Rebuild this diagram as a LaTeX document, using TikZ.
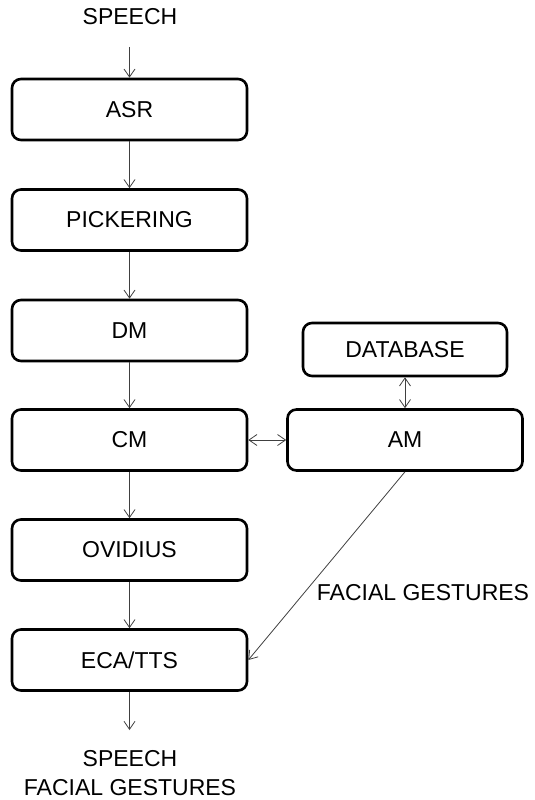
\documentclass[tikz,border=0pt]{standalone}
\usepackage{fontspec}
\setmainfont{Liberation Sans}
\usetikzlibrary{arrows.meta}
\begin{document}
\begin{tikzpicture}[x=1pt,y=-1pt,
  box/.style={draw=black, line width=2.6pt, rounded corners=9pt, fill=white,
              minimum width=235pt, minimum height=61pt, inner sep=0pt,
              font=\fontsize{23}{27}\selectfont},
  smallbox/.style={box, minimum width=204pt, minimum height=53pt},
  lbl/.style={inner sep=0pt, font=\fontsize{23}{27}\selectfont, align=center},
  conn/.style={draw=black!75, line width=0.8pt,
               -{Straight Barb[length=8pt,width=11pt,line width=0.8pt]}},
  dconn/.style={conn, {Straight Barb[length=8pt,width=11pt,line width=0.8pt]}-{Straight Barb[length=8pt,width=11pt,line width=0.8pt]}}
]
\useasboundingbox (0,0) rectangle (535,800);

% main processing chain
\node[box] (asr)  at (129.5,109.5) {ASR};
\node[box] (pick) at (129.5,220)   {PICKERING};
\node[box] (dm)   at (129.5,330.5) {DM};
\node[box] (cm)   at (129.5,440)   {CM};
\node[box] (ovid) at (129.5,550)   {OVIDIUS};
\node[box] (eca)  at (129.5,660)   {ECA/TTS};

% side branch
\node[smallbox] (db) at (405,349.5) {DATABASE};
\node[box]      (am) at (405,440)   {AM};

% input and output labels
\node[lbl] (in)  at (130,16.5) {SPEECH};
\coordinate (inS) at (129.5,47);
\coordinate (outE) at (129.5,730);
\node[lbl, font=\fontsize{23}{29}\selectfont] (out) at (130,773) {SPEECH\\FACIAL GESTURES};
\node[lbl] (fg) at (423,593) {FACIAL GESTURES};

% connectors
\draw[conn] (inS) -- (asr.north);
\draw[conn] (asr) -- (pick);
\draw[conn] (pick) -- (dm);
\draw[conn] (dm) -- (cm);
\draw[conn] (cm) -- (ovid);
\draw[conn] (ovid) -- (eca);
\draw[conn] (eca.south) -- (outE);
\draw[dconn] (cm.east) -- (am.west);
\draw[dconn] (db.south) -- (am.north);
\draw[conn] (am.south) -- (eca.east);
\end{tikzpicture}
\end{document}
